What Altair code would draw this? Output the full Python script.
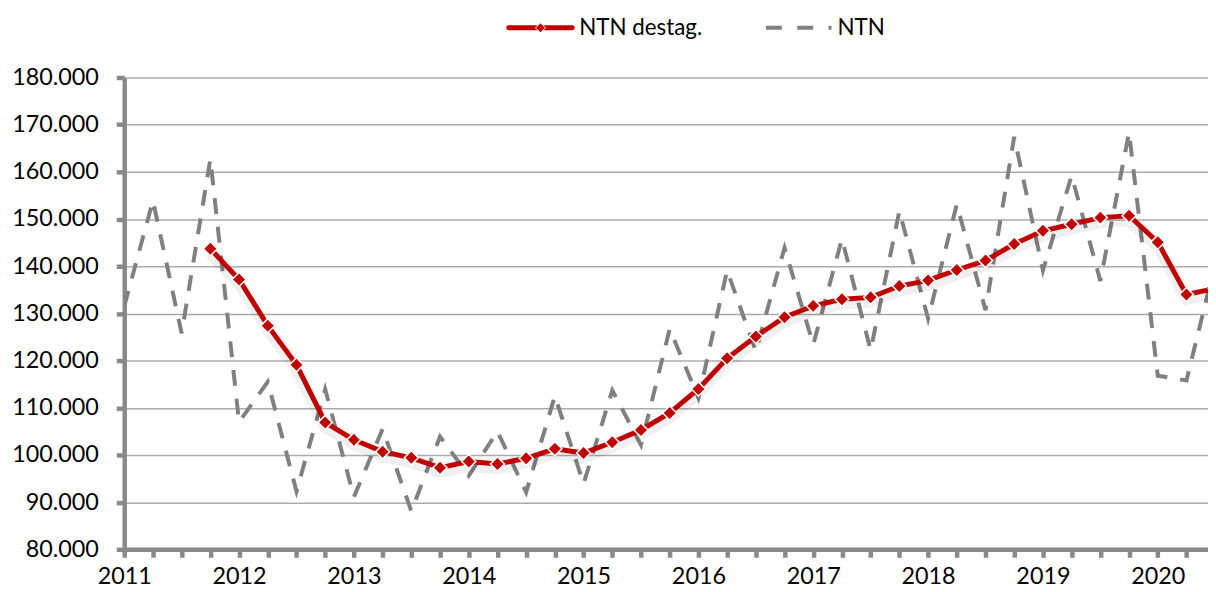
import json
import altair as alt
import pandas as pd

# ---------------- data (in thousands) ----------------
series_names = ["NTN destag.", "NTN"]
year_labels = ["2011", "2012", "2013", "2014", "2015", "2016", "2017", "2018", "2019", "2020"]
quarters = [
    "2011-T1", "2011-T2", "2011-T3", "2011-T4",
    "2012-T1", "2012-T2", "2012-T3", "2012-T4",
    "2013-T1", "2013-T2", "2013-T3", "2013-T4",
    "2014-T1", "2014-T2", "2014-T3", "2014-T4",
    "2015-T1", "2015-T2", "2015-T3", "2015-T4",
    "2016-T1", "2016-T2", "2016-T3", "2016-T4",
    "2017-T1", "2017-T2", "2017-T3", "2017-T4",
    "2018-T1", "2018-T2", "2018-T3", "2018-T4",
    "2019-T1", "2019-T2", "2019-T3", "2019-T4",
    "2020-T1", "2020-T2", "2020-T3",
]
ntn = [
    131.5, 153.9, 125.8, 162.7,
    107.0, 115.5, 92.3, 113.9,
    91.1, 105.5, 88.1, 103.9,
    95.6, 105.0, 92.1, 112.5,
    93.9, 113.7, 102.1, 126.7,
    112.1, 139.1, 122.0, 143.9,
    123.4, 145.8, 122.2, 151.7,
    128.9, 153.1, 130.7, 167.4,
    139.1, 159.2, 136.9, 168.4,
    116.8, 115.8, 140.5,
]
ntn_destag = [
    None, None, None, 143.7,
    137.2, 127.4, 119.1, 106.9,
    103.2, 100.7, 99.4, 97.3,
    98.6, 98.1, 99.3, 101.3,
    100.4, 102.7, 105.3, 108.9,
    114.0, 120.5, 125.1, 129.2,
    131.6, 133.0, 133.4, 135.8,
    137.0, 139.2, 141.2, 144.7,
    147.5, 148.9, 150.3, 150.7,
    145.1, 134.0, 135.3,
]
y_ticks = [80000, 90000, 100000, 110000, 120000, 130000, 140000, 150000, 160000, 170000, 180000]

rows = []
for i, q in enumerate(quarters):
    rows.append({"idx": i, "quarter": q, "serie": series_names[1], "value": round(ntn[i] * 1000)})
    if ntn_destag[i] is not None:
        rows.append({"idx": i, "quarter": q, "serie": series_names[0], "value": round(ntn_destag[i] * 1000)})
df = pd.DataFrame(rows)

# ---------------- styling ----------------
FONT = "Lato"
FS = 23.5
LEG_FS = 22.5
RED = "#C00000"
GRAY = "#808080"
AXIS_GRAY = "#898989"

label_expr = "datum.value % 4 == 0 ? " + json.dumps(year_labels) + "[datum.value / 4] : ''"

x_enc = alt.X(
    "idx:Q",
    scale=alt.Scale(domain=[0, 37.75], nice=False, zero=False),
    axis=alt.Axis(
        values=list(range(38)), labelExpr=label_expr, title=None, grid=False,
        domainColor=AXIS_GRAY, domainWidth=4.5, tickColor=AXIS_GRAY, tickWidth=4.5,
        tickSize=8, labelFont=FONT, labelFontSize=FS, labelColor="#000000",
        labelPadding=7, labelOverlap=False, labelFlush=False, labelBound=False,
    ),
)
y_enc = alt.Y(
    "value:Q",
    scale=alt.Scale(domain=[80000, 180000], nice=False, zero=False),
    axis=alt.Axis(
        values=y_ticks, labelExpr="replace(format(datum.value, ','), ',', '.')",
        title=None, grid=True, gridColor="#ababab", gridWidth=1.5,
        domainColor=AXIS_GRAY, domainWidth=4.5, tickColor=AXIS_GRAY, tickWidth=4.5,
        tickSize=8, labelFont=FONT, labelFontSize=FS, labelColor="#000000",
        labelPadding=18, labelOverlap=False, labelFlush=False, labelBound=False,
    ),
)

base = alt.Chart(df)

ntn_line = base.transform_filter(alt.datum.serie == series_names[1]).mark_line(
    color=GRAY, strokeWidth=4, strokeDash=[16, 13], clip=True
).encode(x=x_enc, y=y_enc, order="idx:Q")

red = base.transform_filter(alt.datum.serie == series_names[0])
shadow = red.mark_line(
    color="#000000", opacity=0.06, strokeWidth=11, yOffset=5, clip=True
).encode(x=x_enc, y=y_enc, order="idx:Q")
red_line = red.mark_line(color=RED, strokeWidth=5, clip=True).encode(
    x=x_enc, y=y_enc, order="idx:Q"
)
red_pts = red.mark_point(
    shape="diamond", filled=True, fill=RED, stroke="#ffffff", strokeWidth=1.5,
    size=200, opacity=1, clip=True
).encode(x=x_enc, y=y_enc)

# ---------------- legend (top) ----------------
leg_df = pd.DataFrame({"serie": series_names})
leg_red = alt.Chart(leg_df).transform_filter(alt.datum.serie == series_names[0])
leg_gray = alt.Chart(leg_df).transform_filter(alt.datum.serie == series_names[1])
leg_y = -50
leg_red_line = leg_red.mark_rule(color=RED, strokeWidth=5, strokeCap="round").encode(
    x=alt.value(387), x2=alt.value(451), y=alt.value(leg_y)
)
leg_red_pt = leg_red.mark_point(
    shape="diamond", filled=True, fill=RED, stroke="#ffffff", strokeWidth=1, size=100, opacity=1
).encode(x=alt.value(419), y=alt.value(leg_y))
leg_red_text = leg_red.mark_text(
    align="left", baseline="middle", font=FONT, fontSize=LEG_FS, color="#000000"
).encode(x=alt.value(458), y=alt.value(leg_y), text="serie:N")
leg_gray_line = leg_gray.mark_rule(color=GRAY, strokeWidth=4, strokeDash=[16, 15.5]).encode(
    x=alt.value(646), x2=alt.value(712), y=alt.value(leg_y)
)
leg_gray_text = leg_gray.mark_text(
    align="left", baseline="middle", font=FONT, fontSize=LEG_FS, color="#000000"
).encode(x=alt.value(718), y=alt.value(leg_y), text="serie:N")

chart = alt.layer(
    ntn_line, shadow, red_line, red_pts,
    leg_red_line, leg_red_pt, leg_red_text, leg_gray_line, leg_gray_text,
).properties(
    width=1091,
    height=475,
    autosize=alt.AutoSizeParams(type="none"),
    padding={"left": 117, "top": 68, "right": 0, "bottom": 41},
).configure_view(stroke=None)

chart.save("out.html", embed_options={"renderer": "svg", "actions": False})
